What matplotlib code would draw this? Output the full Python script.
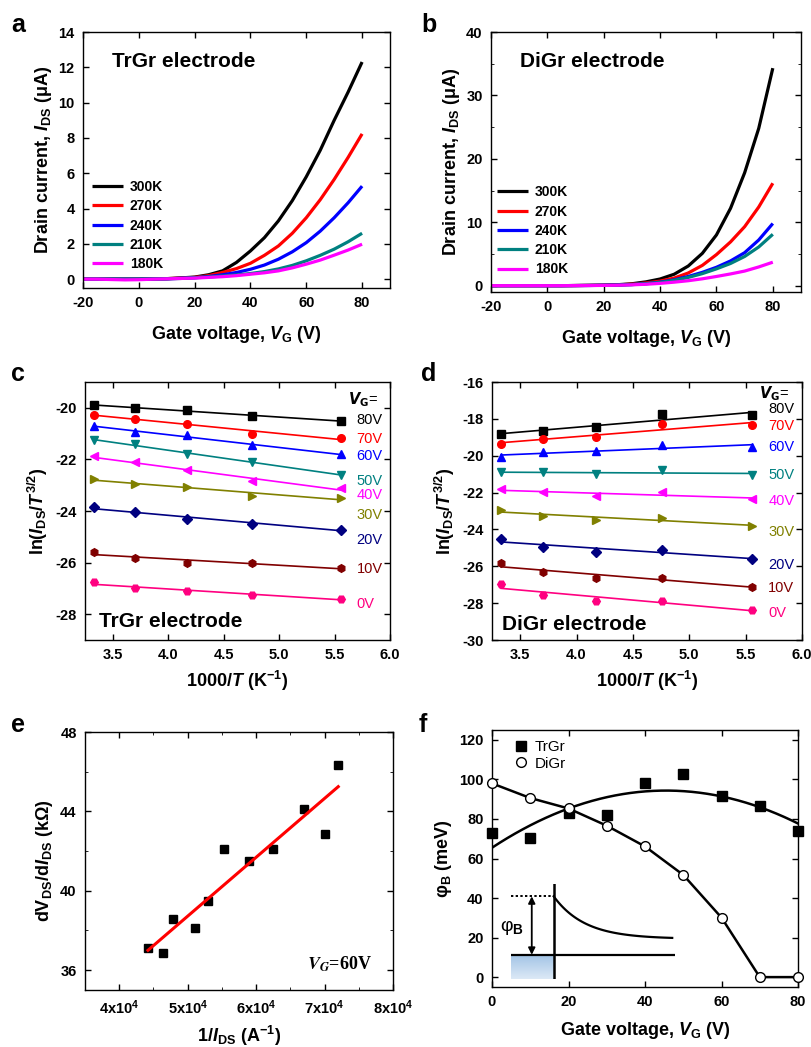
import numpy as np
import matplotlib
matplotlib.use("Agg")
import matplotlib.pyplot as plt
from matplotlib.ticker import FuncFormatter, MultipleLocator, FixedLocator

plt.rcParams.update({
    "font.family": ["Liberation Sans", "DejaVu Sans"],
    "font.weight": "bold",
    "axes.labelweight": "bold",
    "axes.unicode_minus": False,
    "font.size": 10.5,
    "mathtext.fontset": "custom",
    "mathtext.rm": "Liberation Sans:bold",
    "mathtext.it": "Liberation Sans:bold:italic",
    "mathtext.bf": "Liberation Sans:bold",
    "mathtext.sf": "Liberation Sans:bold",
    "axes.linewidth": 1.0,
    "xtick.direction": "in",
    "ytick.direction": "in",
    "xtick.top": True,
    "ytick.right": True,
    "xtick.major.size": 4,
    "ytick.major.size": 4,
    "xtick.minor.size": 2.5,
    "ytick.minor.size": 2.5,
    "xtick.major.width": 1.0,
    "ytick.major.width": 1.0,
    "xtick.major.pad": 6,
    "ytick.major.pad": 6,
})

# ---------------- data ----------------
# (a)/(b) transfer curves, gate voltage grid
vg_curve = [-20, -15, -10, -5, 0, 5, 10, 15, 20, 25, 30, 35, 40, 45, 50, 55, 60, 65, 70, 75, 80]
temps = ["300K", "270K", "240K", "210K", "180K"]
curve_colors = ["#000000", "#FF0000", "#0000FF", "#008080", "#FF00FF"]

trgr_300 = [0, 0, 0, 0, 0, 0.01, 0.03, 0.07, 0.12, 0.25, 0.47, 0.95, 1.6, 2.35, 3.3, 4.45, 5.8, 7.3, 9.0, 10.6, 12.3]
trgr_270 = [0, 0, 0, 0, 0, 0.01, 0.03, 0.06, 0.10, 0.20, 0.38, 0.60, 0.90, 1.35, 1.88, 2.6, 3.48, 4.5, 5.65, 6.9, 8.23]
trgr_240 = [0, 0, 0, 0, 0, 0.01, 0.02, 0.05, 0.08, 0.15, 0.25, 0.38, 0.56, 0.80, 1.13, 1.55, 2.07, 2.72, 3.48, 4.33, 5.27]
trgr_210 = [0, 0, 0, 0, 0, 0.01, 0.02, 0.04, 0.08, 0.12, 0.18, 0.24, 0.32, 0.43, 0.58, 0.78, 1.04, 1.35, 1.70, 2.12, 2.60]
trgr_180 = [0, 0, -0.02, -0.04, -0.03, 0, 0.02, 0.04, 0.06, 0.10, 0.14, 0.20, 0.28, 0.36, 0.47, 0.64, 0.85, 1.08, 1.36, 1.65, 1.98]

digr_300 = [0, 0, 0, 0, 0, 0, 0.02, 0.05, 0.08, 0.15, 0.3, 0.6, 1.05, 1.8, 3.1, 5.1, 8.0, 12.2, 17.8, 24.8, 34.3]
digr_270 = [0, 0, 0, 0, 0, 0, 0.02, 0.04, 0.07, 0.12, 0.24, 0.42, 0.72, 1.2, 2.0, 3.2, 4.9, 6.9, 9.3, 12.4, 16.15]
digr_240 = [0, 0, 0, 0, 0, 0, 0.02, 0.03, 0.06, 0.10, 0.18, 0.32, 0.55, 0.92, 1.45, 2.1, 2.9, 3.9, 5.2, 7.2, 9.8]
digr_210 = [0, 0, 0, 0, 0, 0, 0.01, 0.03, 0.05, 0.09, 0.16, 0.30, 0.50, 0.85, 1.3, 1.9, 2.65, 3.5, 4.6, 6.1, 8.1]
digr_180 = [0, 0, 0, 0, 0, 0, 0.01, 0.02, 0.04, 0.07, 0.13, 0.22, 0.36, 0.55, 0.78, 1.08, 1.45, 1.85, 2.3, 2.95, 3.7]

# (c)/(d) Arrhenius-type plots
inv_T = [3.33, 3.70, 4.17, 4.76, 5.56]
vg_levels = ["80V", "70V", "60V", "50V", "40V", "30V", "20V", "10V", "0V"]
level_colors = ["#000000", "#FF0000", "#0000FF", "#008080", "#FF00FF",
                "#808000", "#000080", "#800000", "#FF0080"]
level_markers = ["s", "o", "^", "v", "<", ">", "D", "h", "H"]

trgr_ln = [
    [-19.90, -20.00, -20.10, -20.30, -20.52],
    [-20.27, -20.43, -20.62, -21.01, -21.17],
    [-20.71, -20.93, -21.07, -21.45, -21.81],
    [-21.23, -21.42, -21.81, -22.11, -22.59],
    [-21.88, -22.11, -22.43, -22.85, -23.11],
    [-22.76, -22.95, -23.08, -23.40, -23.50],
    [-23.86, -24.05, -24.30, -24.49, -24.72],
    [-25.57, -25.83, -26.03, -26.03, -26.19],
    [-26.76, -26.99, -27.12, -27.25, -27.40],
]
digr_ln = [
    [-18.81, -18.68, -18.45, -17.74, -17.81],
    [-19.35, -19.10, -18.99, -18.28, -18.36],
    [-20.08, -19.80, -19.77, -19.41, -19.53],
    [-20.91, -20.91, -20.98, -20.78, -21.04],
    [-21.82, -21.98, -22.18, -21.98, -22.34],
    [-22.94, -23.26, -23.48, -23.39, -23.79],
    [-24.51, -24.93, -25.24, -25.11, -25.58],
    [-25.84, -26.33, -26.65, -26.62, -27.11],
    [-26.96, -27.56, -27.88, -27.87, -28.37],
]
trgr_label_y = [-20.49, -21.19, -21.88, -22.82, -23.37, -24.14, -25.11, -26.24, -27.61]
digr_label_y = [-17.47, -18.41, -19.55, -21.05, -22.45, -24.12, -25.93, -27.20, -28.55]

# (e) differential resistance vs 1/I
inv_I = [4.42e4, 4.64e4, 4.78e4, 5.11e4, 5.29e4, 5.53e4, 5.90e4, 6.24e4, 6.70e4, 7.01e4, 7.20e4]
dvdi = [37.11, 36.88, 38.56, 38.10, 39.47, 42.08, 41.51, 42.08, 44.13, 42.85, 46.35]

# (f) barrier height vs gate voltage
vg_phi = [0, 10, 20, 30, 40, 50, 60, 70, 80]
phi_trgr = [72.7, 70.6, 83.0, 82.0, 98.0, 102.8, 91.8, 86.7, 74.0]
phi_digr = [98.0, 90.6, 85.3, 76.6, 66.1, 51.7, 30.1, 0.0, 0.0]

# ---------------- figure ----------------
W, H = 811, 1047
fig = plt.figure(figsize=(W / 100, H / 100), dpi=100)


def add_ax(l, r, t, b):
    return fig.add_axes([l / W, 1 - b / H, (r - l) / W, (b - t) / H])


ax_a = add_ax(83, 390, 32, 288)
ax_b = add_ax(491, 801, 32, 292)
ax_c = add_ax(85, 390, 382, 640)
ax_d = add_ax(492, 802, 382, 640)
ax_e = add_ax(85, 393, 732, 990)
ax_f = add_ax(492, 798, 730, 987)

LBL = 13
TXT = 15


def panel_letter(x, y, s):
    fig.text(x / W, 1 - y / H, s, fontsize=18, fontweight="bold", ha="left", va="baseline")


panel_letter(11, 32, "a")
panel_letter(421, 32, "b")
panel_letter(11, 381, "c")
panel_letter(421, 381, "d")
panel_letter(11, 732, "e")
panel_letter(419, 732, "f")

# (a) and (b)
for ax, series, title, ylim, ymaj, ymin, anchor in [
    (ax_a, [trgr_300, trgr_270, trgr_240, trgr_210, trgr_180], "TrGr electrode", (-0.5, 14), 2, None, (0.03, 0.244)),
    (ax_b, [digr_300, digr_270, digr_240, digr_210, digr_180], "DiGr electrode", (-1, 40), 10, 5, (0.02, 0.235)),
]:
    for s, c, lab in zip(series, curve_colors, temps):
        ax.plot(vg_curve, s, color=c, lw=2.3, label=lab, solid_capstyle="butt", solid_joinstyle="round")
    ax.set_xlim(-20, 90)
    ax.set_ylim(*ylim)
    ax.xaxis.set_major_locator(FixedLocator([-20, 0, 20, 40, 60, 80]))
    ax.yaxis.set_major_locator(MultipleLocator(ymaj))
    if ymin:
        ax.yaxis.set_minor_locator(MultipleLocator(ymin))
    ax.set_xlabel(r"Gate voltage, $V_{\mathrm{G}}$ (V)", fontsize=LBL, labelpad=10)
    ax.set_ylabel(r"Drain current, $I_{\mathrm{DS}}$ ($\mathrm{\mu}$A)", fontsize=LBL, labelpad=3)
    ax.text(0.095, 0.885, title, transform=ax.transAxes, fontsize=TXT, fontweight="bold", va="center")
    ax.legend(loc="center left", bbox_to_anchor=anchor, frameon=False, fontsize=10,
              handlelength=2.2, handletextpad=0.5, labelspacing=0.38, borderpad=0, borderaxespad=0)

# (c) and (d)
for ax, table, label_y, title, ylim, vg_y, tpos in [
    (ax_c, trgr_ln, trgr_label_y, "TrGr electrode", (-29, -19), -19.68, (0.046, 0.07)),
    (ax_d, digr_ln, digr_label_y, "DiGr electrode", (-30, -16), -16.62, (0.032, 0.062)),
]:
    for vals, c, m, lab, ly in zip(table, level_colors, level_markers, vg_levels, label_y):
        ax.plot(inv_T, vals, ls="none", marker=m, color=c, ms=5.5)
        k, b0 = np.polyfit(inv_T, vals, 1)
        xs = np.array([inv_T[0], inv_T[-1]])
        ax.plot(xs, k * xs + b0, color=c, lw=1.2)
        ax.text(5.70, ly, lab, color=c, fontsize=10.5, fontweight="normal", va="center", ha="left")
    ax.text(5.62, vg_y, r"$V_{\mathrm{G}}$=", fontsize=10.5, fontweight="normal", va="center", ha="left",
            math_fontfamily="dejavusans")
    ax.set_xlim(3.25, 6.0)
    ax.set_ylim(*ylim)
    ax.xaxis.set_major_locator(MultipleLocator(0.5))
    ax.yaxis.set_major_locator(MultipleLocator(2))
    ax.set_xlabel(r"1000/$T$ (K$^{\mathrm{-1}}$)", fontsize=LBL, labelpad=5)
    ax.set_ylabel(r"ln($I_{\mathrm{DS}}$/$T^{\mathrm{3/2}}$)", fontsize=LBL, labelpad=4)
    ax.text(tpos[0], tpos[1], title, transform=ax.transAxes, fontsize=TXT, fontweight="bold", va="center")

# (e)
ax_e.plot(inv_I, dvdi, ls="none", marker="s", color="black", ms=5.5)
k, b0 = np.polyfit(inv_I, dvdi, 1)
xs = np.array([inv_I[0], inv_I[-1]])
ax_e.plot(xs, k * xs + b0, color="#FF0000", lw=2.2)
ax_e.set_xlim(3.5e4, 8e4)
ax_e.set_ylim(35, 48)
ax_e.xaxis.set_major_locator(MultipleLocator(1e4))
ax_e.xaxis.set_minor_locator(MultipleLocator(5e3))
ax_e.yaxis.set_major_locator(FixedLocator([36, 40, 44, 48]))
ax_e.yaxis.set_minor_locator(FixedLocator([38, 42, 46]))
ax_e.xaxis.set_major_formatter(FuncFormatter(lambda v, p: r"%dx10$^{\mathrm{4}}$" % round(v / 1e4)))
ax_e.set_xlabel(r"1/$I_{\mathrm{DS}}$ (A$^{\mathrm{-1}}$)", fontsize=LBL, labelpad=5)
ax_e.set_ylabel(r"dV$_{\mathrm{DS}}$/d$I_{\mathrm{DS}}$ (k$\mathrm{\Omega}$)", fontsize=LBL, labelpad=4)
ax_e.text(0.72, 0.10, r"$V_G$=60V", transform=ax_e.transAxes, fontsize=13, fontweight="bold",
          family=["Liberation Serif"], math_fontfamily="stix", va="center", ha="left")

# (f)
ax_f.plot(vg_phi, phi_trgr, ls="none", marker="s", color="black", ms=7, label="TrGr", clip_on=False, zorder=4)
coef = np.polyfit(vg_phi, phi_trgr, 2)
xf = np.linspace(vg_phi[0], vg_phi[-1], 200)
ax_f.plot(xf, np.polyval(coef, xf), color="black", lw=1.8, zorder=3)
ax_f.plot(vg_phi, phi_digr, color="black", lw=1.8, zorder=3)
ax_f.plot(vg_phi, phi_digr, ls="none", marker="o", mfc="white", mec="black", mew=1.0, ms=7,
          label="DiGr", clip_on=False, zorder=4)
ax_f.set_xlim(0, 80)
ax_f.set_ylim(-5, 125)
ax_f.xaxis.set_major_locator(MultipleLocator(20))
ax_f.yaxis.set_major_locator(MultipleLocator(20))
ax_f.set_xlabel(r"Gate voltage, $V_{\mathrm{G}}$ (V)", fontsize=LBL, labelpad=8)
ax_f.set_ylabel(r"φ$_{\mathrm{B}}$ (meV)", fontsize=LBL, labelpad=4)
ax_f.legend(loc="upper left", bbox_to_anchor=(0.075, 0.96), frameon=False,
            handlelength=0.8, handletextpad=0.5, labelspacing=0.15, borderpad=0, borderaxespad=0,
            prop={"weight": "normal", "size": 11})

# band-diagram sketch inside (f)
ins = ax_f.inset_axes([0.0625, 0.032, 0.535, 0.37])
ins.set_xlim(0, 1)
ins.set_ylim(0, 1)
ins.axis("off")
ins.patch.set_alpha(0)
grad = np.linspace(0, 1, 64).reshape(-1, 1)
ins.imshow(grad, extent=[0, 0.26, 0, 0.252], aspect="auto", origin="lower",
           cmap=matplotlib.colors.LinearSegmentedColormap.from_list("fill", ["#DCE9F6", "#A3C4E6"]), zorder=1)
ins.plot([0, 1.0], [0.252, 0.252], color="black", lw=1.6, zorder=3)
ins.plot([0.26, 0.26], [0, 1.0], color="black", lw=1.8, zorder=3)
ins.plot([0, 0.26], [0.867, 0.867], color="black", lw=1.4, ls=(0, (1.2, 1.2)), zorder=3)
xs_in = np.linspace(0.26, 0.984, 100)
ins.plot(xs_in, 0.42 + 0.447 * np.exp(-(xs_in - 0.26) / 0.19), color="black", lw=1.6, zorder=3)
ins.annotate("", xy=(0.126, 0.252), xytext=(0.126, 0.867),
             arrowprops=dict(arrowstyle="<|-|>", lw=1.3, color="black", mutation_scale=10, shrinkA=0, shrinkB=0))
ins.text(0.005, 0.54, r"φ$_{\mathrm{B}}$", fontsize=14, fontweight="normal", ha="center", va="center")

fig.savefig("out.png", dpi=100)
